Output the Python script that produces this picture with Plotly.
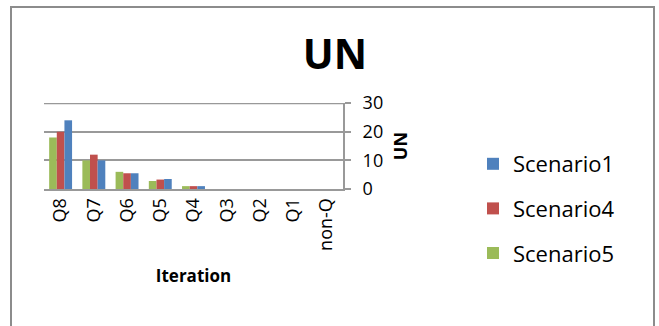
import plotly.graph_objects as go

iterations = ["Q8", "Q7", "Q6", "Q5", "Q4", "Q3", "Q2", "Q1", "non-Q"]
scenario5 = [18, 10, 6, 2.8, 1, 0, 0, 0, 0]
scenario4 = [20, 12, 5.5, 3.3, 1, 0, 0, 0, 0]
scenario1 = [24, 10, 5.5, 3.5, 1, 0, 0, 0, 0]
y_ticks = [0, 10, 20, 30]

W, H = 659, 326
L, R, T, B = 44, 343, 103, 189  # plot area in pixels

def px(x):
    return (x - L) / (R - L)

def py(y):
    return 1 - (y - T) / (B - T)

font_family = "Open Sans, Liberation Sans, sans-serif"
grid_color = "#999999"

fig = go.Figure()
series = [
    ("Scenario5", scenario5, "#9BBB59", 3),
    ("Scenario4", scenario4, "#C0504D", 2),
    ("Scenario1", scenario1, "#4F81BD", 1),
]
for name, vals, color, rank in series:
    fig.add_trace(go.Bar(
        x=iterations, y=vals, name=name, legendgroup=name, legendrank=rank,
        marker=dict(color=color, line=dict(width=0)),
    ))

# top gridline sits on the edge of the range, draw it explicitly
shapes = [dict(type="line", xref="paper", yref="y", x0=0, x1=1,
               y0=y_ticks[-1], y1=y_ticks[-1],
               line=dict(color=grid_color, width=2), layer="below")]
# chart border
shapes.append(dict(type="rect", xref="paper", yref="paper",
                   x0=px(11), x1=px(654), y0=py(333), y1=py(7),
                   line=dict(color="#8c8c8c", width=2), fillcolor="rgba(0,0,0,0)",
                   layer="below"))

fig.update_layout(
    width=W, height=H,
    margin=dict(l=L, r=W - R, t=T, b=H - B),
    paper_bgcolor="white", plot_bgcolor="white",
    barmode="group", bargap=0.31, bargroupgap=0,
    font=dict(family=font_family, color="black"),
    title=dict(text="<b>UN</b>", x=335 / W, xref="container", xanchor="center",
               y=1 - 55 / H, yref="container", yanchor="middle",
               font=dict(size=41, family=font_family, color="black")),
    showlegend=True,
    legend=dict(x=px(473), y=py(143), xanchor="left", yanchor="top",
                traceorder="grouped", tracegroupgap=13, maxheight=300,
                font=dict(size=22, family=font_family, color="black"),
                bgcolor="rgba(0,0,0,0)"),
    xaxis=dict(
        showline=True, linecolor=grid_color, linewidth=2,
        tickangle=-90, ticks="", showgrid=False,
        tickfont=dict(size=18, family=font_family, color="black"),
        title=dict(text="<b>Iteration</b>", font=dict(size=17, family=font_family, color="black"),
                   standoff=20),
    ),
    yaxis=dict(
        side="right", range=[0, 30.05], tickvals=y_ticks,
        showline=True, linecolor=grid_color, linewidth=2,
        ticks="outside", ticklen=6, tickcolor=grid_color, tickwidth=2,
        ticklabelstandoff=8,
        showgrid=True, gridcolor=grid_color, gridwidth=2,
        zeroline=False,
        tickfont=dict(size=18, family=font_family, color="black"),
        title=dict(text="<b>UN</b>", font=dict(size=18, family=font_family, color="black"),
                   standoff=12),
    ),
    shapes=shapes,
)

fig.write_html("out.html")
